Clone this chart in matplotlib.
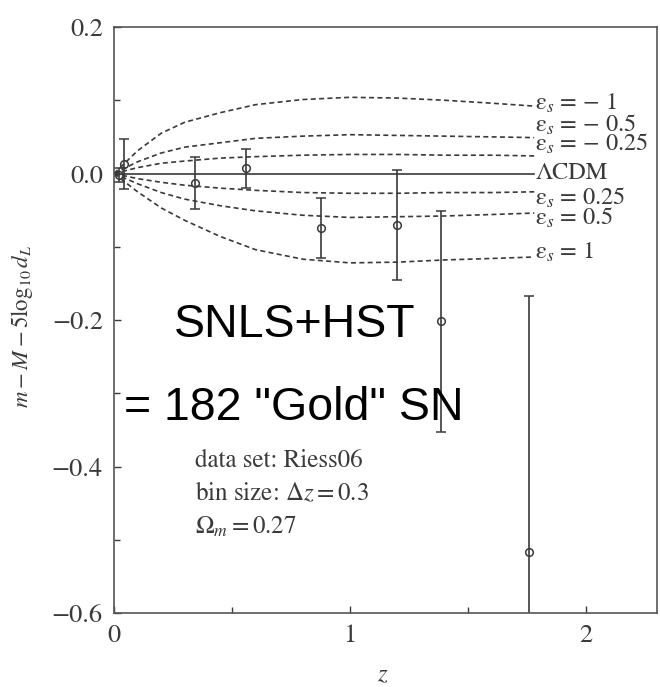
import numpy as np
import matplotlib
matplotlib.use("Agg")
import matplotlib.pyplot as plt

plt.rcParams['font.family'] = ['STIXGeneral', 'DejaVu Serif']
plt.rcParams['mathtext.fontset'] = 'stix'

# binned data points (Riess06, dz = 0.3)
z_bin = [0.02, 0.042, 0.345, 0.56, 0.875, 1.20, 1.385, 1.76]
dm_bin = [-0.002, 0.013, -0.013, 0.007, -0.075, -0.070, -0.202, -0.517]
dm_err = [0.010, 0.034, 0.036, 0.027, 0.041, 0.075, 0.151, 0.350]

# model curves
z_curve = [0.0, 0.1, 0.2, 0.3, 0.45, 0.6, 0.8, 1.0, 1.2, 1.4, 1.6, 1.78]
eps_m1 = [0.0, 0.031, 0.055, 0.070, 0.083, 0.094, 0.101, 0.104, 0.103, 0.100, 0.096, 0.092]
eps_m05 = [0.0, 0.016, 0.028, 0.036, 0.042, 0.048, 0.051, 0.053, 0.052, 0.051, 0.050, 0.049]
eps_m025 = [0.0, 0.008, 0.014, 0.017, 0.021, 0.023, 0.025, 0.026, 0.026, 0.025, 0.025, 0.024]
lcdm = [0.0] * len(z_curve)
eps_p025 = [0.0, -0.007, -0.012, -0.016, -0.020, -0.023, -0.026, -0.027, -0.027, -0.026, -0.026, -0.025]
eps_p05 = [0.0, -0.014, -0.026, -0.035, -0.044, -0.051, -0.057, -0.060, -0.059, -0.058, -0.056, -0.054]
eps_p1 = [0.0, -0.025, -0.047, -0.064, -0.086, -0.104, -0.117, -0.122, -0.121, -0.118, -0.116, -0.114]

curve_labels = [r"ε$_s$ = − 1", r"ε$_s$ = − 0.5", r"ε$_s$ = − 0.25", "ΛCDM",
                r"ε$_s$ = 0.25", r"ε$_s$ = 0.5", r"ε$_s$ = 1"]
label_y = [0.0956, 0.067, 0.040, 0.0, -0.033, -0.061, -0.108]

c = "#3a3a3a"

fig = plt.figure(figsize=(6.6, 6.87), dpi=100)
ax = fig.add_axes([0.1727, 0.1077, 0.8227, 0.853])

for yv in [eps_m1, eps_m05, eps_m025, eps_p025, eps_p05, eps_p1]:
    ax.plot(z_curve, yv, ls=(0, (3, 2)), color=c, lw=1.2)
ax.plot(z_curve, lcdm, ls="-", color=c, lw=1.2)

ax.errorbar(z_bin, dm_bin, yerr=dm_err, fmt="o", mfc="none", mec=c, ms=5.5,
            mew=1.1, ecolor=c, elinewidth=1.2, capsize=3.5, capthick=1.1)

for lab, yl in zip(curve_labels, label_y):
    ax.text(1.785, yl, lab, fontsize=17.5, color=c, va="center", ha="left")

ax.set_xlim(0, 2.3)
ax.set_ylim(-0.6, 0.2)
ax.set_xticks([0, 1, 2])
ax.set_xticks([0.5, 1.5], minor=True)
ax.set_yticks([-0.6, -0.4, -0.2, 0.0, 0.2])
ax.set_yticks([-0.5, -0.3, -0.1, 0.1], minor=True)
ax.set_xticklabels(["0", "1", "2"])
ax.set_yticklabels(["−0.6", "−0.4", "−0.2", "0.0", "0.2"])
ax.tick_params(which="both", direction="in", top=False, right=False,
               colors=c, labelsize=19, pad=8)
ax.tick_params(which="major", length=5, width=1)
ax.tick_params(which="minor", length=4, width=1)
for s in ax.spines.values():
    s.set_color("#555555")
    s.set_linewidth(1.2)

ax.set_xlabel(r"$z$", fontsize=18, color=c)
ax.set_ylabel(r"$m - M - 5\log_{10}d_L$", fontsize=16.5, color=c)
ax.xaxis.set_label_coords(0.495, -0.085)
ax.yaxis.set_label_coords(-0.145, 0.49)

ax.text(0.254, -0.2075, "SNLS+HST", fontsize=33.5, family="Liberation Sans",
        color="black", va="center", ha="left")
ax.text(0.042, -0.32, '= 182 "Gold" SN', fontsize=33.5, family="Liberation Sans",
        color="black", va="center", ha="left")

ax.text(0.343, -0.392, "data set: Riess06", fontsize=18, color=c, va="center")
ax.text(0.343, -0.437, r"bin size: $\Delta z = 0.3$", fontsize=18, color=c, va="center")
ax.text(0.343, -0.483, r"$\Omega_m = 0.27$", fontsize=18, color=c, va="center")

fig.savefig("out.png", dpi=100)
